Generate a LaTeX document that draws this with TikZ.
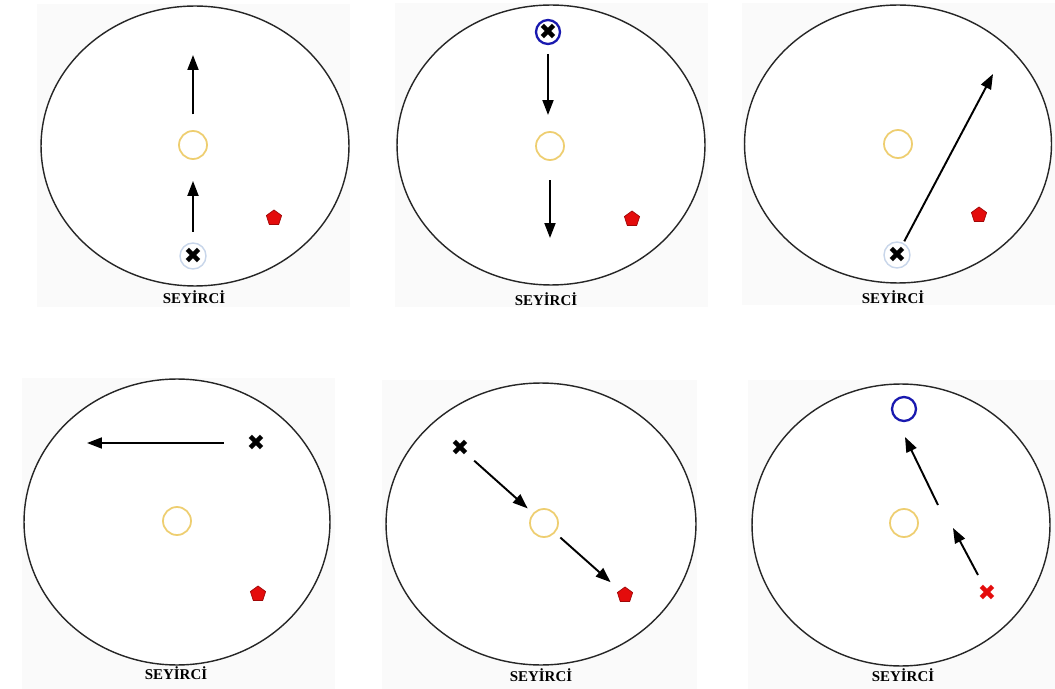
\documentclass[tikz,border=0pt]{standalone}
\usepackage{fontspec}
\setmainfont{Liberation Serif}
\newfontfamily\symfont{DejaVu Sans}
\usetikzlibrary{arrows.meta,shapes.geometric}

\definecolor{goldring}{RGB}{238,206,112}
\definecolor{navyring}{RGB}{25,25,175}
\definecolor{paleblue}{RGB}{200,214,234}
\definecolor{stagered}{RGB}{228,12,12}

\tikzset{
    stage/.style={draw=black!85, line width=0.8pt},
    panel/.style={fill=black!2, draw=none},
    centre/.style={circle, draw=goldring, line width=1pt, minimum size=0.56cm, inner sep=0pt},
    target/.style={circle, draw=navyring, line width=1.3pt, minimum size=0.48cm, inner sep=0pt},
    halo/.style={circle, draw=paleblue, line width=0.8pt, fill=white, minimum size=0.52cm, inner sep=0pt},
    actor/.style={inner sep=0pt, font=\symfont\fontsize{12.5}{12.5}\selectfont},
    prop/.style={regular polygon, regular polygon sides=5, fill=stagered, draw=stagered!70!black, minimum size=0.32cm, inner sep=0pt},
    move/.style={-{Triangle[length=0.3cm,width=0.22cm]}, line width=1.1pt},
    audience/.style={font=\bfseries\fontsize{8.5}{10}\selectfont}
}

\begin{document}
\begin{tikzpicture}[x=0.02cm, y=-0.02cm]
    \useasboundingbox (0,0) rectangle (1055,689);

    % Panel backgrounds
    \fill[panel] (37,4) rectangle (350,307);
    \fill[panel] (395,3) rectangle (708,307);
    \fill[panel] (742,3) rectangle (1055,305);
    \fill[panel] (22,378) rectangle (335,689);
    \fill[panel] (382,380) rectangle (697,689);
    \fill[panel] (748,380) rectangle (1055,689);

    % Stages
    \fill[white] (195,146) ellipse [x radius=3.08cm, y radius=2.8cm];
    \fill[white] (551,145) ellipse [x radius=3.08cm, y radius=2.8cm];
    \fill[white] (898,144) ellipse [x radius=3.07cm, y radius=2.78cm];
    \fill[white] (177,522) ellipse [x radius=3.06cm, y radius=2.86cm];
    \fill[white] (541,524) ellipse [x radius=3.1cm, y radius=2.82cm];
    \fill[white] (901,525) ellipse [x radius=2.98cm, y radius=2.82cm];
    \draw[stage] (195,146) ellipse [x radius=3.08cm, y radius=2.8cm];
    \draw[stage] (551,145) ellipse [x radius=3.08cm, y radius=2.8cm];
    \draw[stage] (898,144) ellipse [x radius=3.07cm, y radius=2.78cm];
    \draw[stage] (177,522) ellipse [x radius=3.06cm, y radius=2.86cm];
    \draw[stage] (541,524) ellipse [x radius=3.1cm, y radius=2.82cm];
    \draw[stage] (901,525) ellipse [x radius=2.98cm, y radius=2.82cm];

    % Audience labels
    \node[audience] (aud1) at (194,297) {SEYİRCİ};
    \node[audience] (aud2) at (546,299) {SEYİRCİ};
    \node[audience] (aud3) at (893,297) {SEYİRCİ};
    \node[audience] (aud4) at (176,673) {SEYİRCİ};
    \node[audience] (aud5) at (541,675) {SEYİRCİ};
    \node[audience] (aud6) at (903,675) {SEYİRCİ};

    % Panel 1
    \node[centre] (c1) at (193,145) {};
    \node[halo] (h1) at (193,256) {};
    \node[actor] (x1) at (193,256) {✖};
    \node[prop] (p1) at (274,218) {};
    \coordinate (e1) at (193,55);
    \draw[move, shorten <=6pt, shorten >=12pt] (h1) -- (c1);
    \draw[move, shorten <=9pt] (c1) -- (e1);

    % Panel 2
    \node[target] (t2) at (548,32) {};
    \node[actor] (x2) at (548,32) {✖};
    \node[centre] (c2) at (550,146) {};
    \node[prop] (p2) at (632,219) {};
    \coordinate (s2) at (548,115);
    \coordinate (e2) at (550,238);
    \draw[move, shorten <=5pt] (t2) -- (s2);
    \draw[move, shorten <=11pt] (c2) -- (e2);

    % Panel 3
    \node[centre] (c3) at (898,144) {};
    \node[halo] (h3) at (897,255) {};
    \node[actor] (x3) at (897,255) {✖};
    \node[prop] (p3) at (979,215) {};
    \coordinate (e3) at (993,74);
    \draw[move, shorten <=1pt] (h3) -- (e3);

    % Panel 4
    \node[actor] (x4) at (256,443) {✖};
    \node[centre] (c4) at (177,521) {};
    \node[prop] (p4) at (258,594) {};
    \coordinate (e4) at (87,443);
    \draw[move, shorten <=13pt] (x4) -- (e4);

    % Panel 5
    \node[actor] (x5) at (460,448) {✖};
    \node[centre] (c5) at (544,523) {};
    \node[prop] (p5) at (625,595) {};
    \draw[move, shorten <=4pt, shorten >=4pt] (x5) -- (c5);
    \draw[move, shorten <=4pt, shorten >=7pt] (c5) -- (p5);

    % Panel 6
    \node[target] (t6) at (904,409) {};
    \node[centre] (c6) at (904,523) {};
    \node[actor, text=stagered] (x6) at (987,593) {✖};
    \coordinate (a6) at (938,505);
    \coordinate (b6) at (905,437);
    \coordinate (d6) at (978,575);
    \coordinate (f6) at (953,528);
    \draw[move] (d6) -- (f6);
    \draw[move] (a6) -- (b6);
\end{tikzpicture}
\end{document}
